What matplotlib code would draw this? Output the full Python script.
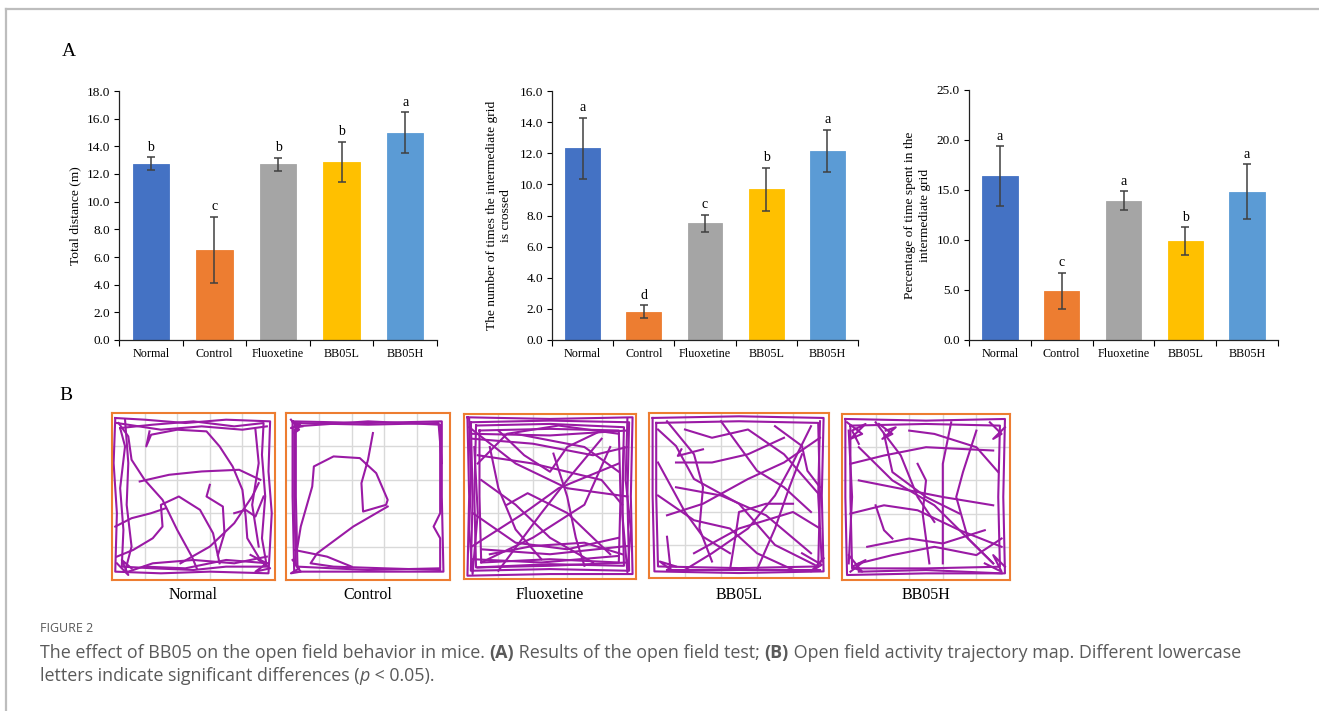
import matplotlib
matplotlib.use("Agg")
import matplotlib.pyplot as plt
from matplotlib.lines import Line2D

W, H = 1319, 711

groups = ["Normal", "Control", "Fluoxetine", "BB05L", "BB05H"]
bar_colors = ["#4472C4", "#ED7D31", "#A5A5A5", "#FFC000", "#5B9BD5"]

distance = [12.75, 6.5, 12.72, 12.87, 14.99]
distance_err = [0.45, 2.4, 0.47, 1.47, 1.48]
distance_sig = ["b", "c", "b", "b", "a"]

crossings = [12.32, 1.82, 7.49, 9.69, 12.15]
crossings_err = [1.97, 0.42, 0.56, 1.37, 1.35]
crossings_sig = ["a", "d", "c", "b", "a"]

time_pct = [16.4, 4.93, 13.93, 9.9, 14.83]
time_pct_err = [3.0, 1.78, 0.93, 1.4, 2.75]
time_pct_sig = ["a", "c", "a", "b", "a"]

# trajectory waypoints, box-normalised, y measured from the top
normal_paths = [
    [(0.02, 0.03), (0.2, 0.04), (0.45, 0.06), (0.7, 0.04), (0.97, 0.05), (0.96, 0.35), (0.98, 0.6),
     (0.96, 0.96), (0.6, 0.95), (0.3, 0.96), (0.02, 0.95), (0.03, 0.6), (0.01, 0.3), (0.02, 0.03)],
    [(0.05, 0.09), (0.25, 0.07), (0.5, 0.05), (0.75, 0.08), (0.93, 0.06), (0.92, 0.25), (0.94, 0.5),
     (0.92, 0.75), (0.95, 0.92), (0.7, 0.92), (0.5, 0.94), (0.25, 0.93), (0.06, 0.92), (0.07, 0.7),
     (0.05, 0.45), (0.08, 0.2), (0.05, 0.09)],
    [(0.03, 0.06), (0.3, 0.1), (0.55, 0.08), (0.8, 0.1), (0.95, 0.08)],
    [(0.08, 0.04), (0.1, 0.3), (0.09, 0.55), (0.12, 0.8), (0.08, 0.95)],
    [(0.04, 0.06), (0.1, 0.14), (0.12, 0.28), (0.2, 0.4), (0.31, 0.52), (0.4, 0.7), (0.49, 0.86), (0.52, 0.93)],
    [(0.17, 0.41), (0.35, 0.37), (0.55, 0.35), (0.78, 0.34), (0.91, 0.4)],
    [(0.23, 0.11), (0.21, 0.2), (0.24, 0.13), (0.4, 0.1), (0.58, 0.11), (0.66, 0.2), (0.74, 0.32),
     (0.8, 0.46), (0.82, 0.62), (0.83, 0.75), (0.91, 0.88)],
    [(0.03, 0.86), (0.13, 0.82), (0.25, 0.75), (0.31, 0.68), (0.3, 0.55), (0.41, 0.5), (0.54, 0.58),
     (0.62, 0.72), (0.66, 0.9)],
    [(0.6, 0.43), (0.58, 0.5), (0.68, 0.56), (0.69, 0.72), (0.65, 0.85)],
    [(0.02, 0.68), (0.12, 0.63), (0.24, 0.6), (0.33, 0.57)],
    [(0.42, 0.9), (0.6, 0.8), (0.75, 0.66), (0.86, 0.5), (0.9, 0.42)],
    [(0.1, 0.95), (0.25, 0.9), (0.5, 0.88), (0.75, 0.9), (0.95, 0.86)],
    [(0.2, 0.92), (0.45, 0.93), (0.7, 0.88), (0.96, 0.9)],
    [(0.75, 0.6), (0.82, 0.58), (0.88, 0.62), (0.93, 0.5)],
    [(0.85, 0.85), (0.95, 0.9), (0.88, 0.95), (0.97, 0.93), (0.9, 0.88)],
    [(0.03, 0.9), (0.1, 0.97), (0.06, 0.88), (0.12, 0.93)],
    [(0.88, 0.1), (0.9, 0.3), (0.86, 0.55), (0.9, 0.8)],
]

control_paths = [
    [(0.04, 0.05), (0.5, 0.06), (0.95, 0.05), (0.95, 0.5), (0.96, 0.95), (0.5, 0.95), (0.05, 0.95),
     (0.04, 0.5), (0.04, 0.05)],
    [(0.06, 0.08), (0.5, 0.05), (0.94, 0.07), (0.94, 0.6), (0.9, 0.68), (0.94, 0.75), (0.94, 0.93),
     (0.5, 0.94), (0.07, 0.92), (0.06, 0.5), (0.06, 0.08)],
    [(0.05, 0.06), (0.5, 0.07), (0.93, 0.06), (0.95, 0.3)],
    [(0.05, 0.1), (0.05, 0.5), (0.06, 0.9)],
    [(0.03, 0.04), (0.08, 0.1), (0.05, 0.12), (0.09, 0.06), (0.03, 0.09), (0.1, 0.08)],
    [(0.53, 0.12), (0.5, 0.28), (0.46, 0.42), (0.47, 0.59), (0.61, 0.55), (0.62, 0.52), (0.55, 0.36),
     (0.45, 0.27), (0.29, 0.26), (0.17, 0.32), (0.16, 0.44), (0.09, 0.68), (0.07, 0.8)],
    [(0.62, 0.56), (0.41, 0.68), (0.19, 0.84), (0.15, 0.9), (0.29, 0.92), (0.6, 0.93), (0.94, 0.94)],
    [(0.05, 0.82), (0.25, 0.86), (0.4, 0.92)],
    [(0.04, 0.88), (0.08, 0.93), (0.03, 0.96), (0.09, 0.95), (0.05, 0.9)],
]

fluoxetine_paths = [
    [(0.02, 0.02), (0.5, 0.03), (0.98, 0.02), (0.97, 0.5), (0.98, 0.97), (0.5, 0.97), (0.02, 0.98),
     (0.03, 0.5), (0.02, 0.02)],
    [(0.04, 0.05), (0.5, 0.04), (0.96, 0.05), (0.95, 0.5), (0.96, 0.95), (0.5, 0.94), (0.04, 0.95),
     (0.05, 0.5), (0.04, 0.05)],
    [(0.07, 0.07), (0.5, 0.06), (0.93, 0.08), (0.92, 0.5), (0.93, 0.92), (0.5, 0.91), (0.07, 0.93),
     (0.06, 0.5), (0.07, 0.07)],
    [(0.09, 0.1), (0.5, 0.09), (0.9, 0.1), (0.91, 0.5), (0.9, 0.9), (0.5, 0.88), (0.1, 0.9),
     (0.09, 0.5), (0.09, 0.1)],
    [(0.03, 0.03), (0.04, 0.4), (0.03, 0.7), (0.05, 0.97), (0.08, 0.6), (0.06, 0.2)],
    [(0.95, 0.03), (0.94, 0.4), (0.97, 0.7), (0.95, 0.96), (0.92, 0.6), (0.93, 0.2)],
    [(0.03, 0.08), (0.3, 0.3), (0.6, 0.45), (0.95, 0.5)],
    [(0.08, 0.25), (0.4, 0.3), (0.8, 0.4), (0.92, 0.55)],
    [(0.05, 0.8), (0.35, 0.6), (0.55, 0.45), (0.9, 0.3)],
    [(0.1, 0.9), (0.4, 0.75), (0.7, 0.55), (0.85, 0.2)],
    [(0.2, 0.1), (0.35, 0.25), (0.5, 0.35), (0.6, 0.2), (0.8, 0.1)],
    [(0.25, 0.55), (0.37, 0.48), (0.6, 0.6), (0.85, 0.85)],
    [(0.15, 0.2), (0.2, 0.45), (0.3, 0.7), (0.45, 0.88)],
    [(0.52, 0.24), (0.6, 0.5), (0.65, 0.75), (0.7, 0.92)],
    [(0.1, 0.4), (0.3, 0.55), (0.5, 0.75), (0.75, 0.9)],
    [(0.05, 0.6), (0.3, 0.78), (0.6, 0.82), (0.9, 0.75)],
    [(0.15, 0.85), (0.4, 0.8), (0.7, 0.78), (0.92, 0.85)],
    [(0.08, 0.3), (0.25, 0.12), (0.55, 0.07), (0.9, 0.12)],
    [(0.3, 0.12), (0.7, 0.2), (0.9, 0.35)],
    [(0.05, 0.15), (0.4, 0.18), (0.75, 0.25), (0.95, 0.2)],
    [(0.1, 0.82), (0.5, 0.85), (0.95, 0.8)],
    [(0.05, 0.88), (0.45, 0.9), (0.9, 0.86)],
    [(0.08, 0.93), (0.5, 0.92), (0.95, 0.9)],
    [(0.2, 0.95), (0.45, 0.6), (0.6, 0.4), (0.8, 0.15)],
    [(0.05, 0.12), (0.5, 0.13), (0.95, 0.1)],
]

bb05l_paths = [
    [(0.02, 0.03), (0.5, 0.02), (0.97, 0.03), (0.96, 0.5), (0.97, 0.96), (0.5, 0.97), (0.03, 0.96),
     (0.02, 0.5), (0.02, 0.03)],
    [(0.04, 0.06), (0.5, 0.05), (0.94, 0.06), (0.95, 0.5), (0.94, 0.93), (0.5, 0.94), (0.05, 0.93),
     (0.04, 0.5), (0.04, 0.06)],
    [(0.95, 0.05), (0.94, 0.5), (0.96, 0.9)],
    [(0.1, 0.95), (0.5, 0.95), (0.95, 0.95)],
    [(0.05, 0.1), (0.15, 0.2), (0.25, 0.4), (0.5, 0.55), (0.7, 0.8), (0.92, 0.92)],
    [(0.1, 0.05), (0.25, 0.25), (0.3, 0.45), (0.28, 0.7), (0.35, 0.9)],
    [(0.2, 0.1), (0.35, 0.15), (0.55, 0.1), (0.75, 0.25), (0.95, 0.5)],
    [(0.05, 0.3), (0.2, 0.6), (0.3, 0.75), (0.45, 0.85)],
    [(0.95, 0.15), (0.75, 0.3), (0.55, 0.4), (0.3, 0.55), (0.1, 0.62)],
    [(0.9, 0.08), (0.8, 0.3), (0.7, 0.5), (0.55, 0.7), (0.35, 0.85), (0.2, 0.95)],
    [(0.4, 0.05), (0.5, 0.2), (0.6, 0.35), (0.75, 0.45), (0.9, 0.6)],
    [(0.15, 0.3), (0.35, 0.3), (0.55, 0.25), (0.75, 0.15)],
    [(0.25, 0.85), (0.5, 0.7), (0.8, 0.6), (0.95, 0.7)],
    [(0.45, 0.95), (0.48, 0.75), (0.5, 0.6), (0.65, 0.55), (0.8, 0.55)],
    [(0.05, 0.5), (0.25, 0.65), (0.45, 0.7), (0.6, 0.85), (0.8, 0.95)],
    [(0.7, 0.08), (0.85, 0.2), (0.88, 0.35), (0.95, 0.45)],
    [(0.18, 0.22), (0.16, 0.26), (0.3, 0.22)],
    [(0.1, 0.75), (0.12, 0.95), (0.06, 0.9), (0.15, 0.93)],
    [(0.85, 0.85), (0.96, 0.92), (0.9, 0.96), (0.97, 0.88)],
    [(0.6, 0.95), (0.7, 0.7), (0.78, 0.45), (0.85, 0.25)],
    [(0.15, 0.45), (0.4, 0.5), (0.65, 0.62), (0.9, 0.85)],
]

bb05h_paths = [
    [(0.02, 0.03), (0.5, 0.04), (0.97, 0.03), (0.96, 0.5), (0.97, 0.96), (0.5, 0.96), (0.03, 0.97),
     (0.02, 0.5), (0.02, 0.03)],
    [(0.05, 0.07), (0.5, 0.06), (0.94, 0.07), (0.93, 0.5), (0.94, 0.92), (0.5, 0.93), (0.06, 0.93),
     (0.05, 0.5), (0.05, 0.07)],
    [(0.04, 0.1), (0.06, 0.5), (0.04, 0.9)],
    [(0.1, 0.95), (0.5, 0.94), (0.95, 0.96)],
    [(0.03, 0.05), (0.12, 0.12), (0.05, 0.15), (0.14, 0.06), (0.06, 0.1), (0.1, 0.18)],
    [(0.22, 0.06), (0.3, 0.12), (0.24, 0.15), (0.32, 0.08), (0.26, 0.1)],
    [(0.88, 0.05), (0.95, 0.12), (0.9, 0.15), (0.97, 0.08)],
    [(0.04, 0.85), (0.12, 0.95), (0.06, 0.92), (0.14, 0.88), (0.05, 0.95)],
    [(0.85, 0.9), (0.95, 0.95), (0.9, 0.85), (0.97, 0.92)],
    [(0.1, 0.2), (0.3, 0.4), (0.55, 0.55), (0.75, 0.75), (0.9, 0.9)],
    [(0.25, 0.12), (0.3, 0.35), (0.5, 0.5), (0.7, 0.6)],
    [(0.65, 0.05), (0.6, 0.3), (0.6, 0.55), (0.6, 0.9)],
    [(0.2, 0.05), (0.35, 0.25), (0.45, 0.5), (0.55, 0.65)],
    [(0.1, 0.4), (0.35, 0.45), (0.6, 0.5), (0.9, 0.55)],
    [(0.05, 0.6), (0.25, 0.55), (0.45, 0.58), (0.7, 0.7), (0.95, 0.8)],
    [(0.15, 0.8), (0.4, 0.75), (0.6, 0.78), (0.85, 0.7)],
    [(0.2, 0.55), (0.25, 0.7), (0.3, 0.75)],
    [(0.8, 0.1), (0.72, 0.35), (0.68, 0.5), (0.75, 0.75), (0.9, 0.9)],
    [(0.4, 0.1), (0.55, 0.12), (0.8, 0.2), (0.93, 0.35)],
    [(0.05, 0.3), (0.25, 0.25), (0.5, 0.2), (0.9, 0.22)],
    [(0.1, 0.9), (0.3, 0.85), (0.55, 0.8), (0.8, 0.85), (0.95, 0.75)],
    [(0.45, 0.3), (0.5, 0.4), (0.48, 0.6), (0.52, 0.9)],
]

trajectories = [normal_paths, control_paths, fluoxetine_paths, bb05l_paths, bb05h_paths]
traj_boxes = [(112, 413, 275, 580), (286, 413, 450, 580), (464, 414, 636, 579),
              (649, 413, 829, 578), (842, 414, 1010, 580)]

serif = "Liberation Serif"
sans = "Open Sans"
plt.rcParams["font.family"] = serif

fig = plt.figure(figsize=(W / 100, H / 100), dpi=100)


def px_axes(x0, y0, x1, y1):
    return fig.add_axes([x0 / W, 1 - y1 / H, (x1 - x0) / W, (y1 - y0) / H])


def bar_panel(rect, values, errs, sig, ymax, step, ylabel, label_x):
    ax = px_axes(*rect)
    x = range(len(groups))
    ax.bar(x, values, width=0.57, color=bar_colors, edgecolor=bar_colors, linewidth=0.6, zorder=2)
    ax.errorbar(x, values, yerr=errs, fmt="none", ecolor="#404040", elinewidth=1.1,
                capsize=3, capthick=1.1, zorder=3)
    for i, (v, e, s) in enumerate(zip(values, errs, sig)):
        ax.annotate(s, (i, v + e), xytext=(0, 2.5), textcoords="offset points",
                    ha="center", va="bottom", fontsize=10)
    ax.set_xlim(-0.5, len(groups) - 0.5)
    ax.set_ylim(0, ymax)
    ticks = [i * step for i in range(int(round(ymax / step)) + 1)]
    ax.set_yticks(ticks)
    ax.set_yticklabels([f"{t:.1f}" for t in ticks], fontsize=9.5)
    ax.set_xticks(list(x))
    ax.set_xticklabels(groups, fontsize=8.7)
    ax.set_xticks([i - 0.5 for i in range(len(groups) + 1)], minor=True)
    ax.tick_params(axis="x", which="major", length=0, pad=6)
    ax.tick_params(axis="x", which="minor", length=4, width=0.8, direction="out")
    ax.tick_params(axis="y", length=3.5, width=0.8, pad=3)
    for side in ("top", "right"):
        ax.spines[side].set_visible(False)
    for side in ("left", "bottom"):
        ax.spines[side].set_linewidth(0.9)
        ax.spines[side].set_color("#222222")
    ax.set_ylabel(ylabel, fontsize=9.7, linespacing=1.3)
    ax.yaxis.set_label_coords(label_x, 0.5)
    return ax


bar_panel((119, 91, 437, 340), distance, distance_err, distance_sig, 18, 2,
          "Total distance (m)", -0.12)
bar_panel((552, 91, 858, 340), crossings, crossings_err, crossings_sig, 16, 2,
          "The number of times the intermediate grid\nis crossed", -0.13)
bar_panel((969, 90, 1278, 340), time_pct, time_pct_err, time_pct_sig, 25, 5,
          "Percentage of time spent in the\nintermediate grid", -0.123)

fig.text(69 / W, 1 - 52 / H, "A", fontsize=14, ha="center", va="center")
fig.text(66 / W, 1 - 395 / H, "B", fontsize=14, ha="center", va="center")

for name, paths, box in zip(groups, trajectories, traj_boxes):
    ax = px_axes(*box)
    ax.set_xlim(0, 1)
    ax.set_ylim(1, 0)
    for g in (0.2, 0.4, 0.6, 0.8):
        ax.axvline(g, color="#d9d9d9", lw=1.0, zorder=1)
        ax.axhline(g, color="#d9d9d9", lw=1.0, zorder=1)
    for p in paths:
        ax.plot([q[0] for q in p], [q[1] for q in p], color="#9a1aa5", lw=1.5,
                solid_joinstyle="round", zorder=2)
    ax.set_xticks([])
    ax.set_yticks([])
    for s in ax.spines.values():
        s.set_color("#ED7D31")
        s.set_linewidth(1.5)
    cx = (box[0] + box[2]) / 2
    fig.text(cx / W, 1 - 595 / H, name, fontsize=11.5, ha="center", va="center")

# page frame
fig.add_artist(Line2D([6 / W, 1318 / W], [1 - 9 / H, 1 - 9 / H], color="#bdbdbd", lw=1.6))
fig.add_artist(Line2D([6 / W, 6 / W], [1 - 9 / H, 0], color="#bdbdbd", lw=1.6))

# caption
cap_color = "#5a5a5a"
fig.text(40 / W, 1 - 629 / H, "FIGURE 2", fontsize=9, family=sans, color=cap_color, va="center")

renderer = fig.canvas.get_renderer()
caption_lines = [
    (653, [("The effect of BB05 on the open field behavior in mice. ", "normal", "normal"),
           ("(A)", "bold", "normal"),
           (" Results of the open field test; ", "normal", "normal"),
           ("(B)", "bold", "normal"),
           (" Open field activity trajectory map. Different lowercase", "normal", "normal")]),
    (676, [("letters indicate significant differences (", "normal", "normal"),
           ("p", "normal", "italic"),
           (" < 0.05).", "normal", "normal")]),
]
for ypx, pieces in caption_lines:
    xpx = 40
    for txt, weight, style in pieces:
        t = fig.text(xpx / W, 1 - ypx / H, txt, fontsize=12.9, family=sans, color=cap_color,
                     weight=weight, style=style, va="center")
        xpx += t.get_window_extent(renderer).width

fig.savefig("out.png", dpi=100)
